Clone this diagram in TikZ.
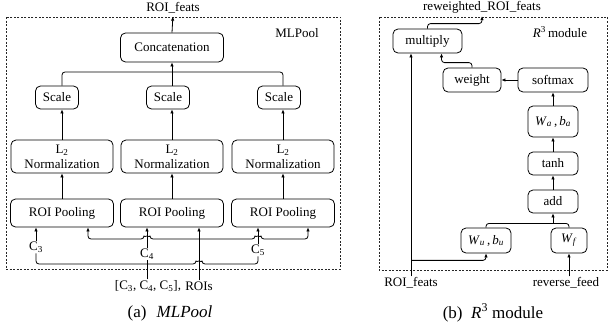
\documentclass[tikz,border=0pt]{standalone}
\usepackage{fontspec}
\setmainfont{Liberation Serif}
\usetikzlibrary{arrows.meta}

\tikzset{
  blk/.style={draw, rounded corners=5pt, line width=0.8pt, inner sep=1pt,
    align=center, font=\fontsize{13}{15}\selectfont},
  lbl/.style={inner sep=1pt, font=\fontsize{13}{15}\selectfont},
  capt/.style={inner sep=1pt, font=\fontsize{17}{20}\selectfont},
  frame/.style={draw=black!85, dash pattern=on 2pt off 1.5pt, line width=0.6pt},
  wire/.style={line width=0.8pt, rounded corners=3pt}
}

\begin{document}
\begin{tikzpicture}[x=1pt, y=1pt, >={Latex[length=4pt,width=3.5pt]}]
  \useasboundingbox (0,0) rectangle (611,-332);

  %% MLPool
  \draw[frame] (6,-17) rectangle (340,-269);
  \node[lbl] (out) at (173,-8) {ROI\_feats};
  \node[lbl] (mlp) at (297,-33) {MLPool};
  \node[blk, minimum width=103pt, minimum height=29pt] (cat) at (172,-47.5) {Concatenation};

  \node[blk, minimum width=43pt, minimum height=23pt] (s1) at (57,-97.5) {Scale};
  \node[blk, minimum width=43pt, minimum height=23pt] (s2) at (168,-97.5) {Scale};
  \node[blk, minimum width=43pt, minimum height=23pt] (s3) at (279,-97.5) {Scale};

  \node[blk, minimum width=102pt, minimum height=33pt] (n1) at (62,-156.5) {L\textsubscript{2}\\Normalization};
  \node[blk, minimum width=102pt, minimum height=33pt] (n2) at (172,-156.5) {L\textsubscript{2}\\Normalization};
  \node[blk, minimum width=102pt, minimum height=33pt] (n3) at (283,-156.5) {L\textsubscript{2}\\Normalization};

  \node[blk, minimum width=103pt, minimum height=28pt] (p1) at (62,-213) {ROI Pooling};
  \node[blk, minimum width=103pt, minimum height=28pt] (p2) at (172,-213) {ROI Pooling};
  \node[blk, minimum width=103pt, minimum height=28pt] (p3) at (283,-213) {ROI Pooling};

  \node[lbl] (c3) at (36,-247) {C\textsubscript{3}};
  \node[lbl] (c4) at (147,-254) {C\textsubscript{4}};
  \node[lbl] (c5) at (258,-250) {C\textsubscript{5}};
  \node[lbl] (inp) at (148,-286) {[C\textsubscript{3}, C\textsubscript{4}, C\textsubscript{5}],};
  \node[lbl] (rois) at (199,-286) {ROIs};

  \foreach \from/\to in {p1/n1, p2/n2, p3/n3}
    \draw[wire,->] (\from) -- (\to);
  \foreach \i in {1,2,3}
    \draw[wire,->] (n\i.north) -- (n\i.north |- s\i.south);
  \coordinate (jc) at (172,-72);
  \draw[wire] (n1.north |- s1.north) |- (jc) -| (n3.north |- s3.north);
  \draw[wire,->] (n2.north |- s2.north) -- (cat.south);
  \draw[wire,->,shorten >=2pt] (cat.north) -- (out.south);

  % ROIs spread to every pooling block
  \draw[wire,->] (rois.north) -- (rois.north |- p2.south);
  \draw[wire,<->] (88,0 |- p1.south) |- (144,-239)
    arc[start angle=180, end angle=0, radius=3pt] -- (255,-239)
    arc[start angle=180, end angle=0, radius=3pt] -| (308,0 |- p3.south);
  % feature maps
  \foreach \c/\p in {c3/p1, c4/p2, c5/p3}
    \draw[wire,->] (\c.north) -- (\c.north |- \p.south);
  \draw[wire] (c3.south) |- (196,-264)
    arc[start angle=180, end angle=0, radius=3pt] -| (c5.south);
  \draw[wire] (c4.south |- inp.north) -- (c4.south);

  %% R^3 module
  \draw[frame] (379,-17) rectangle (607,-270);
  \node[lbl] (rw) at (482,-7) {reweighted\_ROI\_feats};
  \node[lbl] (r3) at (560,-32) {\textit{R}\textsuperscript{3}\,module};

  \node[blk, minimum width=69pt, minimum height=24pt] (mul) at (427.5,-41) {multiply};
  \node[blk, minimum width=58pt, minimum height=24pt] (wt) at (472,-80) {weight};
  \node[blk, minimum width=70pt, minimum height=24pt] (sm) at (553,-80) {softmax};
  \node[blk, minimum width=50pt, minimum height=31pt] (wa) at (553,-121.5)
    {\textit{W}\textsubscript{\textit{a}}\,,\,\textit{b}\textsubscript{\textit{a}}};
  \node[blk, minimum width=50pt, minimum height=23pt] (th) at (553,-163.5) {tanh};
  \node[blk, minimum width=50pt, minimum height=23pt] (ad) at (553,-201.5) {add};
  \node[blk, minimum width=50pt, minimum height=25pt] (wu) at (486,-240.5)
    {\textit{W}\textsubscript{\textit{u}}\,,\,\textit{b}\textsubscript{\textit{u}}};
  \node[blk, minimum width=36pt, minimum height=25pt] (wf) at (569,-240.5)
    {\textit{W}\textsubscript{\textit{f}}};
  \node[lbl] (roi) at (411,-283) {ROI\_feats};
  \node[lbl] (rev) at (566,-283) {reverse\_feed};

  \foreach \from/\to in {wa/sm, th/wa, ad/th}
    \draw[wire,->] (\from) -- (\to);
  \draw[wire,->] (sm.west) -- (wt.east);
  \draw[wire,->] (wt.north) -- ++(0,5) -| ([xshift=14pt]mul.south);
  \draw[wire,->] (mul.north) -- ++(0,5) -| ([yshift=-2pt]rw.south);

  \draw[wire] (wu.north) |- ([yshift=-10pt]ad.south) -| (wf.north);
  \draw[wire,->] ([yshift=-10pt]ad.south) -- (ad.south);
  \draw[wire,->] (roi.north) -- (roi.north |- mul.south);
  \draw[wire,->] ([yshift=16pt]roi.north) -| (wu.south);
  \draw[wire,->] (wf.south |- rev.north) -- (wf.south);

  \node[capt] (ca) at (170,-313) {(a)\hspace{0.6em}\textit{MLPool}};
  \node[capt] (cb) at (493,-313) {(b)\hspace{0.5em}\textit{R}\textsuperscript{3} module};
\end{tikzpicture}
\end{document}
